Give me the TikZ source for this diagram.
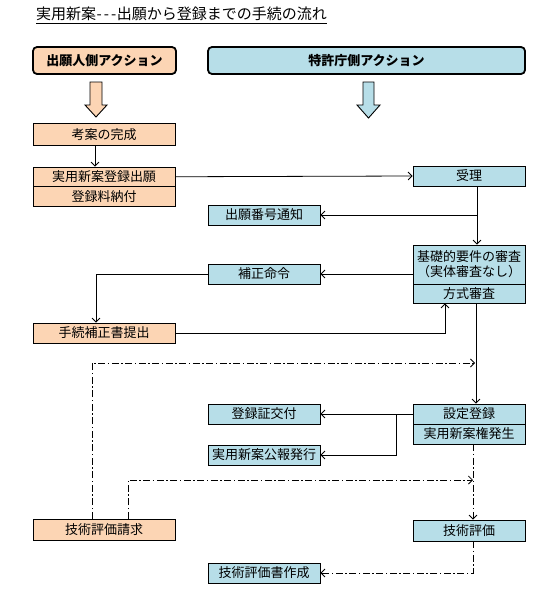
\documentclass[tikz,border=0pt]{standalone}
\usepackage{fontspec}
\newfontfamily\jp{Noto Sans CJK JP}
\usetikzlibrary{arrows.meta,calc}
\definecolor{peach}{HTML}{FCD5B4}
\definecolor{lblue}{HTML}{B7DEE8}
\tikzset{
  box/.style={draw, line width=0.8pt, inner sep=0pt, anchor=center, font=\jp\fontsize{13}{15}\selectfont},
  obox/.style={box, fill=peach, minimum width=142pt},
  bbox/.style={box, fill=lblue, minimum width=112pt},
  hdr/.style={draw, line width=1.8pt, rounded corners=4pt, minimum height=27pt, inner sep=0pt, font=\jp\bfseries\fontsize{13}{15}\selectfont},
  conn/.style={line width=0.8pt, -{Straight Barb[length=4pt,width=8pt]}},
  dd/.style={conn, dash pattern=on 7pt off 2.5pt on 1.5pt off 2.5pt},
  fat/.style={draw, line width=0.9pt, line join=miter},
}
\begin{document}
\begin{tikzpicture}[x=1pt,y=-1pt]
\useasboundingbox (0,0) rectangle (554,605);
% title
\node[anchor=base west, inner sep=0pt, font=\jp\fontsize{15}{17}\selectfont] (title) at (36,19.5) {実用新案\kern0.5pt-\kern2pt-\kern2pt-\kern0.5pt出願から登録までの手続の流れ};
\draw[line width=0.9pt] ([yshift=-3.5pt]title.base west) -- ([yshift=-3.5pt]title.base east);
% headers
\node[hdr, fill=peach, minimum width=143pt] (hL) at (104.5,60.5) {出願人側アクション};
\node[hdr, fill=lblue, minimum width=317pt] (hR) at (366.5,60.5) {特許庁側アクション};
% fat arrows
\draw[fat, fill=peach] (90,82) -- (102,82) -- (102,105) -- (107,105) -- (96,117) -- (85,105) -- (90,105) -- cycle;
\draw[fat, fill=lblue] (363,82) -- (374,82) -- (374,105) -- (380,105) -- (368.5,118) -- (357,105) -- (363,105) -- cycle;
% applicant side
\node[obox, minimum height=22pt] (kouan) at (104,134.5) {考案の完成};
\node[obox, minimum height=19.5pt] (shutsugan) at (104,176.75) {実用新案登録出願};
\node[obox, minimum height=19.5pt] (ryoukin) at (104,196.25) {登録料納付};
\node[obox, minimum height=20pt] (tetsuzuki) at (104,333) {手続補正書提出};
\node[obox, minimum height=21pt] (seikyu) at (104,529.5) {技術評価請求};
% office side
\node[bbox, minimum height=20pt] (juri) at (469,176) {受理};
\node[bbox, minimum height=20pt] (bango) at (264,215) {出願番号通知};
\node[bbox, minimum height=39pt, align=center] (kiso) at (469,264.5) {基礎的要件の審査\\（実体審査なし）};
\node[bbox, minimum height=19pt] (houshiki) at (469,293.5) {方式審査};
\node[bbox, minimum height=20pt] (hosei) at (264,274) {補正命令};
\node[bbox, minimum height=20pt] (settei) at (469,414) {設定登録};
\node[bbox, minimum height=20pt] (kenri) at (469,434) {実用新案権発生};
\node[bbox, minimum height=20pt] (toroku) at (264,414) {登録証交付};
\node[bbox, minimum height=20pt] (kouhou) at (264,455) {実用新案公報発行};
\node[bbox, minimum height=21pt] (hyouka) at (469,530.5) {技術評価};
\node[bbox, minimum height=20pt] (sakusei) at (264,573) {技術評価書作成};
% helper coordinates
\coordinate (vA) at ([xshift=8pt]juri.south);
\coordinate (vB) at ([xshift=7pt]houshiki.south);
\coordinate (vC) at ([xshift=4pt]kenri.south);
\coordinate (br) at (396,414);
\coordinate (y363) at (0,363);
\coordinate (y480) at (0,480);
% connectors
\draw[conn] ([xshift=-9pt]kouan.south) -- ([xshift=-9pt]shutsugan.north);
\draw[conn] (shutsugan.east) -- (juri.west);
\draw[conn] (vA) -- (vA |- kiso.north);
\draw[conn] (vA |- bango.east) -- (bango.east);
\draw[conn] (kiso.west |- hosei.east) -- (hosei.east);
\draw[conn] (hosei.west) -| ([xshift=-8pt]tetsuzuki.north);
\draw[conn] (tetsuzuki.east) -| ([xshift=-24pt]houshiki.south);
\draw[conn] (vB) -- (vB |- settei.north);
\draw[conn] (settei.west) -- (toroku.east);
\draw[conn] (br) |- (kouhou.east);
\draw[dd] ([xshift=-12pt]seikyu.north) |- ($(vB |- y363)+(-1,0)$);
\draw[dd] (vC) -- (vC |- hyouka.north);
\draw[dd] ([xshift=24pt]seikyu.north) |- (vC |- y480);
\draw[dd] ([xshift=4pt]hyouka.south) |- (sakusei.east);
\end{tikzpicture}
\end{document}
